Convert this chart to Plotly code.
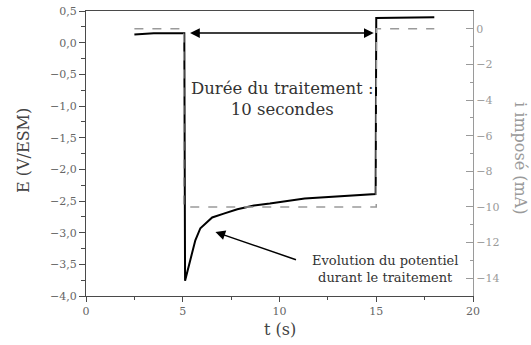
import plotly.graph_objects as go

# Potential E (V/ESM) vs time t (s)
t_E = [2.5, 3.5, 5.08, 5.12, 5.25, 5.43, 5.65, 5.91, 6.52, 7.12, 7.82, 8.68, 9.5, 11.3, 13.0, 14.97, 15.0, 16.5, 18.0]
E = [0.13, 0.15, 0.15, -3.76, -3.6, -3.38, -3.12, -2.93, -2.76, -2.70, -2.63, -2.57, -2.54, -2.46, -2.43, -2.39, 0.39, 0.40, 0.40]

# Imposed current i (mA) vs time t (s)
t_i = [2.5, 5.05, 5.05, 15.0, 15.0, 18.0]
i_mA = [0, 0, -10, -10, 0, 0]

# Axis ticks
x_ticks = [0, 5, 10, 15, 20]
y_ticks = [0.5, 0.0, -0.5, -1.0, -1.5, -2.0, -2.5, -3.0, -3.5, -4.0]
y2_ticks = [0, -2, -4, -6, -8, -10, -12, -14]

FONT = "DejaVu Serif"
DARK = "#4a4a4a"
LIGHT = "#9a9a9a"

fig = go.Figure()
fig.add_trace(go.Scatter(x=t_i, y=i_mA, yaxis="y2", mode="lines",
                         line=dict(color=LIGHT, width=1.5, dash="dash"),
                         showlegend=False, hoverinfo="skip"))
fig.add_trace(go.Scatter(x=t_E, y=E, mode="lines",
                         line=dict(color="black", width=2),
                         showlegend=False))

fig.update_layout(
    width=531, height=345,
    margin=dict(l=86, r=58, t=11, b=49, autoexpand=False),
    paper_bgcolor="white", plot_bgcolor="white",
    separators=", ",
    font=dict(family=FONT, size=11, color=DARK),
    xaxis=dict(range=[0, 20], tickvals=x_ticks, ticks="outside", ticklen=5,
               tickcolor=DARK, linecolor=DARK, linewidth=1.2, mirror=True,
               showgrid=False, zeroline=False, automargin=False,
               tickfont=dict(size=11, color="#666"),
               minor=dict(dtick=2.5, ticks="outside", ticklen=3, tickcolor=DARK)),
    yaxis=dict(range=[-4.0, 0.5], tickvals=y_ticks, tickformat=".1f",
               ticks="outside", ticklen=6, tickcolor=DARK, automargin=False,
               linecolor=DARK, linewidth=1.2, showgrid=False, zeroline=False,
               tickfont=dict(size=11, color="#666"),
               minor=dict(dtick=0.25, ticks="outside", ticklen=4, tickcolor=DARK)),
    yaxis2=dict(range=[-15, 1], tickvals=y2_ticks, overlaying="y", side="right",
                ticks="inside", ticklen=7, tickcolor=LIGHT, automargin=False,
                linecolor=LIGHT, linewidth=1.2, showgrid=False, zeroline=False,
                tickfont=dict(size=11, color=LIGHT),
                minor=dict(dtick=1, ticks="inside", ticklen=3, tickcolor=LIGHT)),
    annotations=[
        dict(x=-0.163, y=0.512, xref="paper", yref="paper", showarrow=False,
             text="E (V/ESM)", textangle=-90, font=dict(size=16, color="#444"),
             xanchor="center", yanchor="middle"),
        dict(x=1.124, y=0.484, xref="paper", yref="paper", showarrow=False,
             text="i imposé (mA)", textangle=90, font=dict(size=16, color=LIGHT),
             xanchor="center", yanchor="middle"),
        dict(x=0.5, y=-0.119, xref="paper", yref="paper", showarrow=False,
             text="t (s)", font=dict(size=16, color="#444"),
             xanchor="center", yanchor="middle"),
        dict(x=14.87, y=0.152, ax=5.3, ay=0.152, xref="x", yref="y", axref="x", ayref="y",
             text="", showarrow=True, arrowside="end+start", arrowhead=2,
             arrowsize=1.3, arrowwidth=1.5, arrowcolor="black"),
        dict(x=10.15, y=-0.89, xref="x", yref="y", showarrow=False,
             text="Durée du traitement :<br>10 secondes",
             font=dict(size=16.5, color="#333"), align="center"),
        dict(x=6.69, y=-2.99, ax=10.93, ay=-3.435, xref="x", yref="y", axref="x", ayref="y",
             text="", showarrow=True, arrowhead=2, arrowsize=1.3, arrowwidth=1.5,
             arrowcolor="black"),
        dict(x=15.43, y=-3.57, xref="x", yref="y", showarrow=False,
             text="Evolution du potentiel<br>durant le traitement",
             font=dict(size=13, color="#333"), align="center"),
    ],
)

fig.write_html("out.html", config={"displayModeBar": False},
               post_script="document.body.style.margin='0';document.body.style.overflow='hidden';")
